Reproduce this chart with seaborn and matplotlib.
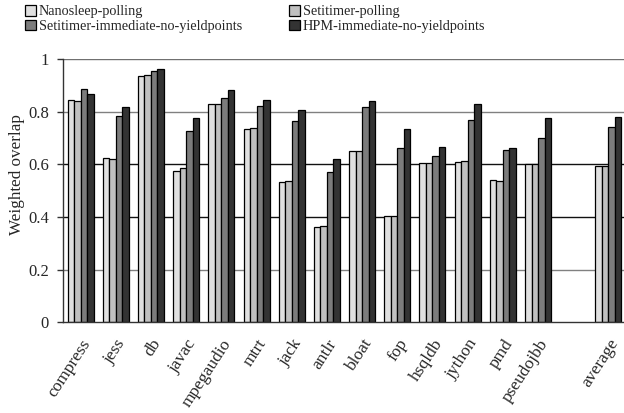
import numpy as np
import pandas as pd
import matplotlib
matplotlib.use("Agg")
import matplotlib.pyplot as plt
import seaborn as sns

benchmarks = ["compress", "jess", "db", "javac", "mpegaudio", "mtrt", "jack", "antlr",
              "bloat", "fop", "hsqldb", "jython", "pmd", "pseudojbb", "", "average"]
configs = ["Nanosleep-polling", "Setitimer-polling",
           "Setitimer-immediate-no-yieldpoints", "HPM-immediate-no-yieldpoints"]

nanosleep_polling = [0.844, 0.623, 0.934, 0.576, 0.828, 0.733, 0.532, 0.363,
                     0.649, 0.403, 0.604, 0.609, 0.542, 0.603, np.nan, 0.592]
setitimer_polling = [0.839, 0.619, 0.938, 0.585, 0.828, 0.737, 0.535, 0.366,
                     0.649, 0.403, 0.606, 0.614, 0.537, 0.600, np.nan, 0.592]
setitimer_immediate = [0.886, 0.782, 0.953, 0.725, 0.851, 0.820, 0.766, 0.570,
                       0.816, 0.663, 0.630, 0.767, 0.656, 0.701, np.nan, 0.743]
hpm_immediate = [0.866, 0.816, 0.962, 0.777, 0.884, 0.846, 0.808, 0.619,
                 0.839, 0.734, 0.665, 0.829, 0.663, 0.777, np.nan, 0.781]

series = [nanosleep_polling, setitimer_polling, setitimer_immediate, hpm_immediate]
rows = []
for cfg, vals in zip(configs, series):
    for b, v in zip(benchmarks, vals):
        rows.append({"benchmark": b, "config": cfg, "overlap": v})
df = pd.DataFrame(rows)

sns.set_theme(style="white")
plt.rcParams["font.family"] = ["Liberation Serif", "DejaVu Serif"]

colors = ["#e0e0e0", "#c0c0c0", "#7c7c7c", "#333333"]

fig = plt.figure(figsize=(6.24, 4.13), dpi=100)
ax = fig.add_axes([63 / 624, (413 - 322.3) / 413, 563 / 624, (322.3 - 59) / 413])

ax.set_axisbelow(True)
grid_colors = {0.2: "#808080", 0.4: "#111111", 0.6: "#111111", 0.8: "#808080", 1.0: "#707070"}
for yv, c in grid_colors.items():
    ax.axhline(yv, color=c, lw=1.0, zorder=0)

sns.barplot(data=df, x="benchmark", y="overlap", hue="config", order=benchmarks,
            hue_order=configs, palette=colors, width=0.74, gap=0, errorbar=None,
            edgecolor="black", linewidth=0.9, saturation=1, ax=ax)

handles, labels = ax.get_legend_handles_labels()
ax.get_legend().remove()

ax.set_xlim(-0.5, 15.5)
ax.set_ylim(0, 1)
ax.set_yticks([0, 0.2, 0.4, 0.6, 0.8, 1.0])
ax.set_yticklabels(["0", "0.2", "0.4", "0.6", "0.8", "1"], fontsize=12)
ax.set_xticks(range(len(benchmarks)))
ax.set_xticklabels(benchmarks, rotation=57, ha="right", rotation_mode="anchor", fontsize=12.5)
ax.set_xticks(np.arange(-0.5, 15.6, 1.0), minor=True)
ax.tick_params(axis="x", which="major", length=0, pad=10)
ax.tick_params(axis="x", which="minor", length=4, width=1, color="#333333", direction="out")
ax.tick_params(axis="y", which="major", length=4, width=1, color="#333333", direction="out",
               left=True, pad=6)
ax.set_xlabel("")
ax.set_ylabel("Weighted overlap", fontsize=12.3)
ax.yaxis.set_label_coords(-0.068, 0.56)

for s in ["top", "right"]:
    ax.spines[s].set_visible(False)
for s in ["left", "bottom"]:
    ax.spines[s].set_color("#333333")
    ax.spines[s].set_linewidth(1.0)

order_idx = [0, 2, 1, 3]
fig.legend([handles[i] for i in order_idx], [labels[i] for i in order_idx], ncol=2,
           loc="upper left", bbox_to_anchor=(15 / 624, 1.012),
           frameon=False, fontsize=10.3, handlelength=0.75, handleheight=0.75,
           handletextpad=0.2, labelspacing=0.12, columnspacing=3.3, borderpad=0.2)

fig.savefig("out.png", dpi=100)
